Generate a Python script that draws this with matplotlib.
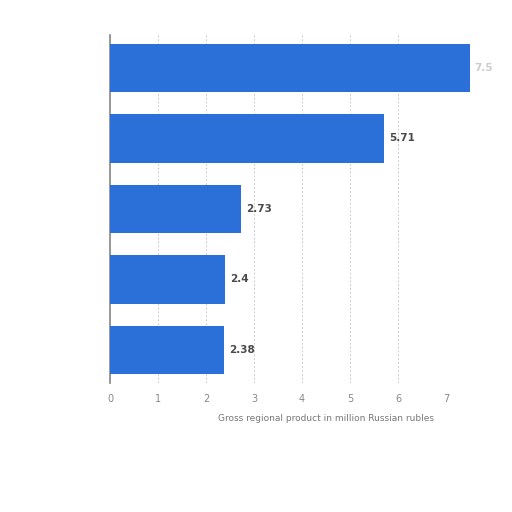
import matplotlib
matplotlib.use("Agg")
import matplotlib.pyplot as plt

categories = ["A", "B", "C", "D", "E"]
values = [7.5, 5.71, 2.73, 2.4, 2.38]
value_labels = ["7.5", "5.71", "2.73", "2.4", "2.38"]
xticks = [0, 1, 2, 3, 4, 5, 6, 7]
xlabel = "Gross regional product in million Russian rubles"

fig = plt.figure(figsize=(5.12, 5.12), dpi=100)
ax = fig.add_axes([0.215, 0.252, 0.656, 0.680])
ypos = list(range(len(categories)))
bars = ax.barh(ypos, values, height=0.69, color="#2b6fd8", zorder=3, clip_on=False)
ax.set_ylim(4.47, -0.47)
ax.set_xlim(0, 7)
ax.set_xticks(xticks)
ax.set_xticklabels([str(t) for t in xticks], fontsize=7, color="#888888")
ax.set_yticks([])
ax.tick_params(axis="x", length=0, pad=8)
ax.grid(axis="x", color="#cccccc", linestyle=(0, (2, 2)), linewidth=0.7, zorder=0)
for s in ["top", "right", "bottom"]:
    ax.spines[s].set_visible(False)
ax.spines["left"].set_color("#888888")
ax.spines["left"].set_linewidth(1.2)
for i, (v, lab) in enumerate(zip(values, value_labels)):
    color = "#cccccc" if i == 0 else "#4a4a4a"
    ax.text(v + 0.1, i, lab, va="center", ha="left", fontsize=7.5,
            fontweight="bold", color=color, clip_on=False)
ax.set_xlabel(xlabel, fontsize=6.5, color="#777777", labelpad=2)
ax.xaxis.set_label_coords(0.965, -0.09)
ax.xaxis.label.set_horizontalalignment("right")
fig.savefig("out.png", dpi=100, facecolor="white")
